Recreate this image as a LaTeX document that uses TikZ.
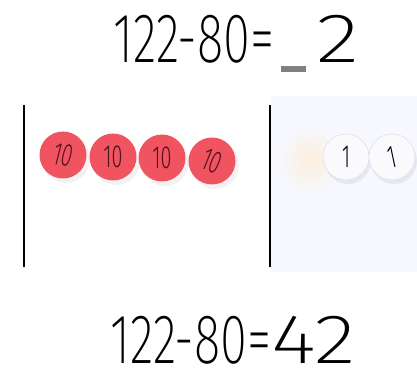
\documentclass[tikz,border=0pt]{standalone}
\usepackage{fontspec}
\newfontfamily\handfont{Fira Sans ExtraLight}
\newfontfamily\chipfont{Fira Sans Light}
\usepackage{tikz}
\definecolor{chipred}{RGB}{240,84,96}
\definecolor{chipink}{RGB}{80,18,30}
\definecolor{chipwhite}{RGB}{250,250,253}
\definecolor{chipedge}{RGB}{214,218,230}
\definecolor{tablewhite}{RGB}{246,248,253}
\definecolor{glow}{RGB}{252,238,220}
\definecolor{blankgrey}{RGB}{128,128,128}

\tikzset{
  sumtext/.style={anchor=base west,inner sep=0pt,font=\handfont\fontsize{70}{70}\selectfont},
  tenchip/.style={circle,fill=chipred,minimum size=47pt,inner sep=0pt,outer sep=0pt,
    text=chipink,font=\chipfont\fontsize{32}{32}\selectfont},
  onechip/.style={circle,fill=chipwhite,draw=chipedge,minimum size=46pt,inner sep=0pt,
    font=\chipfont\fontsize{32}{32}\selectfont}
}

\begin{document}
\begin{tikzpicture}[x=1pt,y=-1pt]
    \useasboundingbox (0,0) rectangle (417,371);

    % Table behind the ones
    \fill[tablewhite] (271,96) rectangle (417,272);
    \shade[inner color=glow,outer color=tablewhite] (310,160) ellipse (30 and 34);

    % Top sum with the blank
    \node[sumtext] (topsum) at (113,63) {\scalebox{0.70}[1]{122-80=}};
    \fill[blankgrey] (281,66) rectangle (306,72);
    \node[sumtext] (topdigit) at (316,63) {\scalebox{1.3}[1]{2}};

    % Place value lines
    \draw[line width=2pt] (24,105)--(24,267);
    \draw[line width=2pt] (270,105)--(270,267);

    % Tens chips
    \foreach \x/\y/\r [count=\i] in {63/155/-14, 113/157/0, 162/158/0, 212/161/-22}{
      \fill[black,opacity=0.05] (\x+3,\y+4) circle (24);
      \node[tenchip] (ten\i) at (\x,\y) {\rotatebox{\r}{\scalebox{0.62}[1]{10}}};
    }

    % Ones chips
    \foreach \x/\y/\r [count=\i] in {346/157/0, 392/157/12}{
      \fill[chipedge,opacity=0.5] (\x+2,\y+4) circle (23);
      \node[onechip] (one\i) at (\x,\y) {\rotatebox{\r}{\scalebox{0.6}[1]{1}}};
    }

    % Bottom sum, filled in
    \node[sumtext] (botsum) at (110,363) {\scalebox{0.70}[1]{122-80=}\scalebox{1.25}[1]{42}};
\end{tikzpicture}
\end{document}
